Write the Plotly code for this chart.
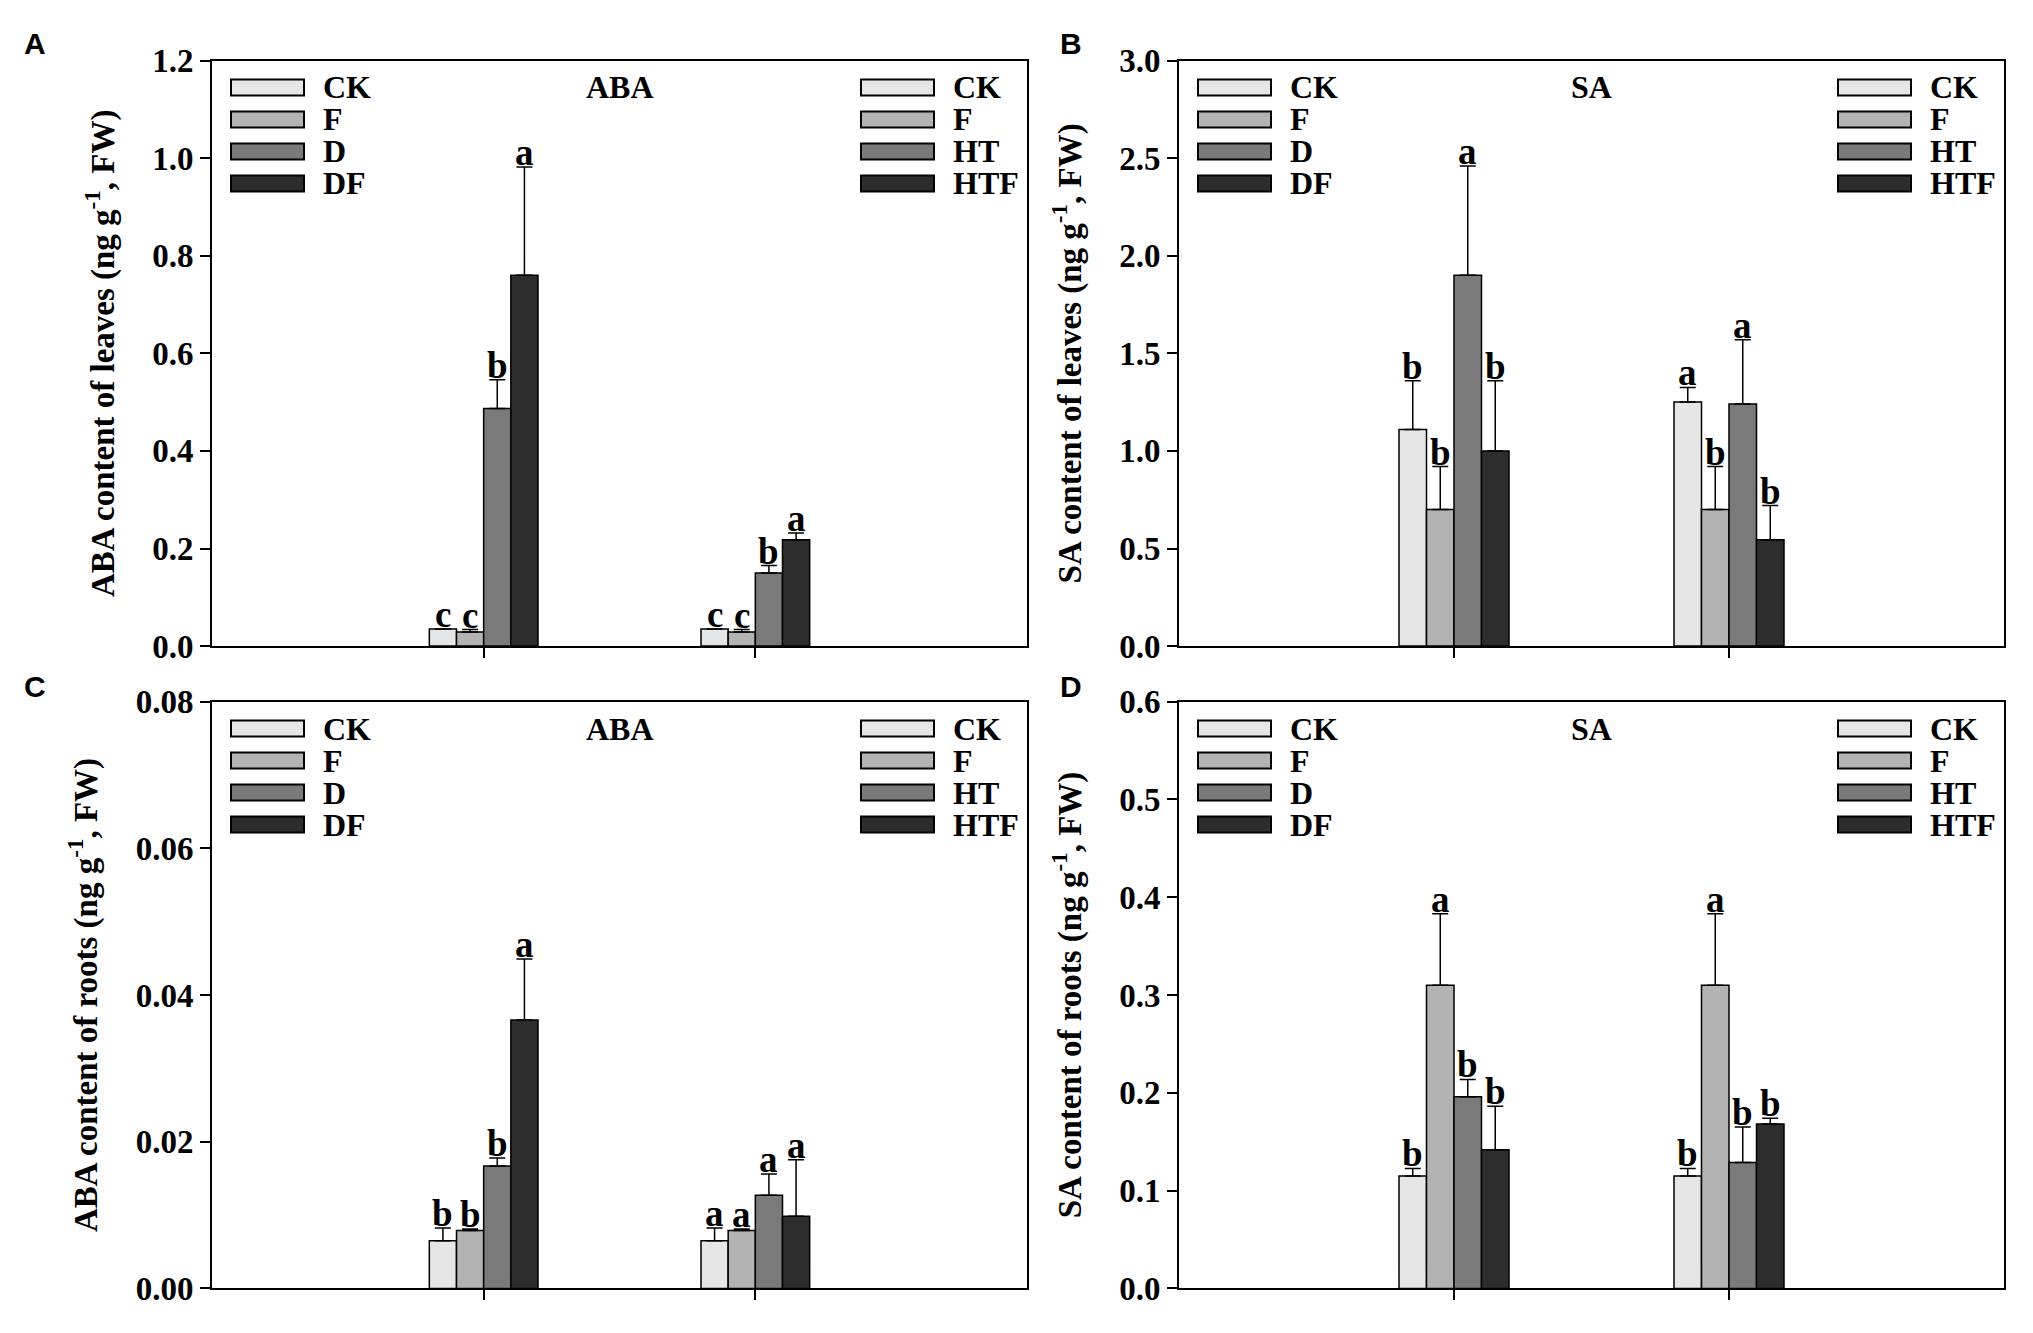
import plotly.graph_objects as go

# ---------------- data ----------------
groups = [1, 2]
colors = ["#e6e6e6", "#b3b3b3", "#7a7a7a", "#2d2d2d"]
legend_left = ["CK", "F", "D", "DF"]
legend_right = ["CK", "F", "HT", "HTF"]

# Panel A: ABA content of leaves
A_vals = [[0.035, 0.035], [0.029, 0.029], [0.487, 0.150], [0.760, 0.218]]
A_errs = [[0.0, 0.0], [0.005, 0.005], [0.059, 0.015], [0.222, 0.014]]
A_letters = [["c", "c"], ["c", "c"], ["b", "b"], ["a", "a"]]

# Panel B: SA content of leaves
B_vals = [[1.11, 1.25], [0.70, 0.70], [1.90, 1.24], [1.00, 0.545]]
B_errs = [[0.25, 0.075], [0.22, 0.22], [0.56, 0.33], [0.36, 0.175]]
B_letters = [["b", "a"], ["b", "b"], ["a", "a"], ["b", "b"]]

# Panel C: ABA content of roots
C_vals = [[0.00648, 0.00648], [0.00788, 0.00788], [0.01667, 0.01268], [0.0366, 0.00983]]
C_errs = [[0.00176, 0.00176], [0.0002, 0.0002], [0.0011, 0.0029], [0.0083, 0.0077]]
C_letters = [["b", "a"], ["b", "a"], ["b", "a"], ["a", "a"]]

# Panel D: SA content of roots
D_vals = [[0.115, 0.115], [0.310, 0.310], [0.196, 0.1287], [0.1417, 0.168]]
D_errs = [[0.0076, 0.0076], [0.073, 0.073], [0.0176, 0.0363], [0.0446, 0.006]]
D_letters = [["b", "b"], ["a", "a"], ["b", "b"], ["b", "b"]]

panels = [
    dict(tag="A", title="ABA", vals=A_vals, errs=A_errs, letters=A_letters,
         ytitle="ABA content of leaves (ng g<sup>-1</sup>, FW)",
         yrange=[0, 1.2], dtick=0.2, fmt=".1f"),
    dict(tag="B", title="SA", vals=B_vals, errs=B_errs, letters=B_letters,
         ytitle="SA content of leaves (ng g<sup>-1</sup>, FW)",
         yrange=[0, 3.0], dtick=0.5, fmt=".1f"),
    dict(tag="C", title="ABA", vals=C_vals, errs=C_errs, letters=C_letters,
         ytitle="ABA content of roots (ng g<sup>-1</sup>, FW)",
         yrange=[0, 0.08], dtick=0.02, fmt=".2f"),
    dict(tag="D", title="SA", vals=D_vals, errs=D_errs, letters=D_letters,
         ytitle="SA content of roots (ng g<sup>-1</sup>, FW)",
         yrange=[0, 0.6], dtick=0.1, fmt=".1f"),
]

# ---------------- layout geometry (target picture pixels) ----------------
W, H = 2033, 1333
boxes = [
    dict(x=(212, 1027), y=(61.7, 647.5), lab=(35, 45)),
    dict(x=(1179, 2004), y=(61.7, 647.5), lab=(1071, 45)),
    dict(x=(212, 1027), y=(703, 1290), lab=(35, 688)),
    dict(x=(1179, 2004), y=(703, 1290), lab=(1071, 688)),
]
SERIF = "Liberation Serif"
FS = 32
offsets = [-0.15, -0.05, 0.05, 0.15]


def px(x):
    # page body margin shifts the figure 8 px to the right
    return (x - 8) / W


def py(y):
    # measured vertical mapping between figure and rendered picture
    return 1 - (1.0274 * y - 26.9) / H


def sfont(size=FS):
    return dict(family=SERIF, size=size, color="black", weight="bold")


fig = go.Figure()
shapes = []
annotations = []

for i, (p, b) in enumerate(zip(panels, boxes)):
    n = "" if i == 0 else str(i + 1)
    xa, ya = "x" + n, "y" + n
    for k in range(4):
        fig.add_trace(go.Bar(
            x=groups, y=p["vals"][k], xaxis=xa, yaxis=ya,
            marker=dict(color=colors[k], line=dict(color="black", width=1.5)),
            error_y=dict(type="data", array=p["errs"][k], symmetric=False,
                         arrayminus=[0, 0], color="black", thickness=1.5, width=8),
            showlegend=False, name=legend_left[k],
        ))
        for g in range(2):
            top = p["vals"][k][g] + p["errs"][k][g]
            annotations.append(dict(
                x=groups[g] + offsets[k], y=top, xref=xa, yref=ya,
                text=p["letters"][k][g], showarrow=False,
                xanchor="center", yanchor="bottom", yshift=-8, font=sfont(37),
            ))
    axis_common = dict(showline=True, linecolor="black", linewidth=2, mirror=True,
                       showgrid=False, zeroline=False, ticks="outside", ticklen=10,
                       tickwidth=1.5, tickcolor="black")
    fig.layout["xaxis" + n] = dict(
        domain=[px(b["x"][0]), px(b["x"][1])], range=[0, 3],
        tickvals=groups, showticklabels=False, anchor=ya, **axis_common)
    fig.layout["yaxis" + n] = dict(
        domain=[py(b["y"][1]), py(b["y"][0])], range=p["yrange"], dtick=p["dtick"],
        tick0=0, tickformat=p["fmt"], anchor=xa, tickfont=sfont(33),
        title=dict(text=p["ytitle"], standoff=28, font=sfont(33)),
        **axis_common)

    x0, x1 = b["x"]
    y0 = b["y"][0]
    # panel title
    annotations.append(dict(x=px((x0 + x1) / 2), y=py(y0 + 27), xref="paper", yref="paper",
                            text=p["title"], showarrow=False,
                            xanchor="center", yanchor="middle", font=sfont()))
    # panel letter
    annotations.append(dict(x=px(b["lab"][0]), y=py(b["lab"][1]), xref="paper", yref="paper",
                            text=p["tag"], showarrow=False, xanchor="center", yanchor="middle",
                            font=dict(family="Liberation Sans", size=30, color="black",
                                      weight="bold")))
    # legends (left and right)
    for names, sx in ((legend_left, x0 + 19), (legend_right, x1 - 166)):
        for k, name in enumerate(names):
            cy = y0 + 27 + 32 * k
            shapes.append(dict(type="rect", xref="paper", yref="paper",
                               x0=px(sx), x1=px(sx + 73), y0=py(cy + 8), y1=py(cy - 8),
                               fillcolor=colors[k], line=dict(color="black", width=2)))
            annotations.append(dict(x=px(sx + 90), y=py(cy), xref="paper", yref="paper",
                                    text=name, showarrow=False, xanchor="left",
                                    yanchor="middle", font=sfont()))

fig.update_layout(
    width=W, height=H, margin=dict(l=0, r=0, t=0, b=0),
    paper_bgcolor="white", plot_bgcolor="white",
    barmode="group", bargap=0.6, bargroupgap=0,
    shapes=shapes, annotations=annotations,
)

fig.write_html("out.html")
